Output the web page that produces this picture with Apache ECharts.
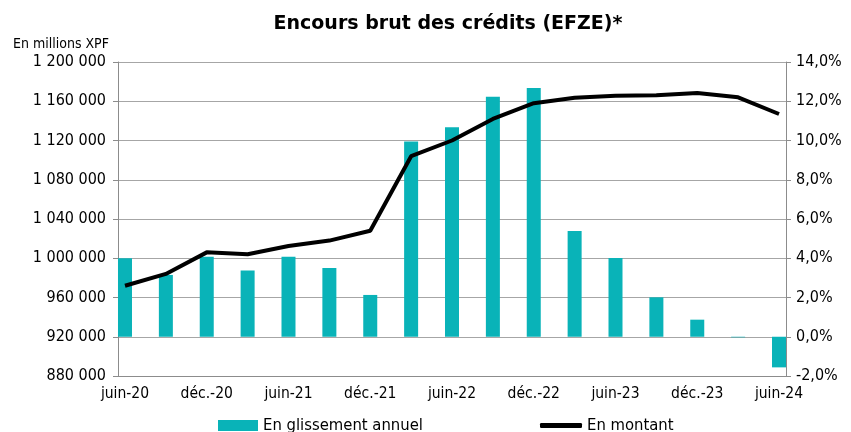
<!DOCTYPE html>
<html>
<head>
<meta charset="utf-8">
<script src="https://cdn.jsdelivr.net/npm/echarts@6/dist/echarts.min.js"></script>
<style>
  html, body { margin: 0; padding: 0; background: #fff; }
  #encours { width: 851px; height: 432px; }
</style>
</head>
<body>
<div id="encours"></div>
<script>
// trimestres, de juin-20 à juin-24
var categories = ["juin-20", "sept.-20", "déc.-20", "mars-21", "juin-21", "sept.-21", "déc.-21", "mars-22",
  "juin-22", "sept.-22", "déc.-22", "mars-23", "juin-23", "sept.-23", "déc.-23", "mars-24", "juin-24"];
// en millions XPF (axe de gauche)
var montant = [972000, 984000, 1006000, 1004000, 1012500, 1018000, 1028000, 1104000,
  1120000, 1142000, 1158000, 1163500, 1165500, 1166000, 1168500, 1164000, 1147000];
// en % (axe de droite)
var glissement = [4.0, 3.15, 4.08, 3.37, 4.08, 3.5, 2.13, 9.95,
  10.67, 12.23, 12.68, 5.39, 4.01, 2.01, 0.87, -0.03, -1.56];
var labelIdx = [0, 2, 4, 6, 8, 10, 12, 14, 16];

var font = "DejaVu Sans Condensed";
var chart = echarts.init(document.getElementById("encours"), null, { renderer: "canvas" });

function fmtMontant(v) {
  return String(v).replace(/\B(?=(\d{3})+(?!\d))/g, " ");
}

var option = {
  animation: false,
  backgroundColor: "#fff",
  textStyle: { fontFamily: font },
  title: [{
    text: "Encours brut des crédits (EFZE)*",
    left: 443, top: 10, textAlign: "center",
    textStyle: { fontFamily: "DejaVu Sans", fontSize: 19, fontWeight: "bold", color: "#000" }
  }, {
    text: "En millions XPF",
    left: 8, top: 32,
    textStyle: { fontFamily: font, fontSize: 14, fontWeight: "normal", color: "#000" }
  }],
  legend: [{
    data: ["En glissement annuel"],
    left: 213, top: 412,
    itemWidth: 40, itemHeight: 11, itemGap: 4,
    icon: "rect",
    textStyle: { fontFamily: font, fontSize: 16.5, color: "#000" }
  }, {
    data: ["En montant"],
    left: 535, top: 412,
    itemWidth: 42, itemHeight: 5,
    icon: "roundRect",
    textStyle: { fontFamily: font, fontSize: 16.5, color: "#000" }
  }],
  grid: { left: 118, right: 65, top: 62, bottom: 56, containLabel: false },
  xAxis: {
    type: "value",
    min: -0.171, max: 16.171,
    axisLine: { onZero: false, lineStyle: { color: "#8c8c8c", width: 1 } },
    axisTick: { show: false },
    splitLine: { show: false },
    axisLabel: {
      customValues: labelIdx,
      formatter: function (v) { return categories[Math.round(v)]; },
      fontFamily: font, fontSize: 15.5, color: "#000", margin: 10
    }
  },
  yAxis: [{
    type: "value",
    min: 880000, max: 1200000, interval: 40000,
    axisLine: { show: true, onZero: false, lineStyle: { color: "#8c8c8c" } },
    axisTick: { show: true, length: 5, lineStyle: { color: "#8c8c8c" } },
    splitLine: { lineStyle: { color: "#a6a6a6", width: 1 } },
    axisLabel: { formatter: fmtMontant, fontFamily: font, fontSize: 16, color: "#000", margin: 12 }
  }, {
    type: "value",
    min: -2, max: 14, interval: 2,
    axisLine: { show: true, onZero: false, lineStyle: { color: "#8c8c8c" } },
    axisTick: { show: true, length: 5, lineStyle: { color: "#8c8c8c" } },
    splitLine: { show: false },
    axisLabel: {
      formatter: function (v) { return v.toFixed(1).replace(".", ",") + "%"; },
      fontFamily: font, fontSize: 16, color: "#000", margin: 10
    }
  }],
  series: [{
    name: "En glissement annuel",
    type: "bar",
    yAxisIndex: 1,
    barWidth: 14,
    itemStyle: { color: "#09b3b8" },
    data: glissement.map(function (v, i) { return [i, v]; })
  }, {
    name: "En montant",
    type: "line",
    yAxisIndex: 0,
    showSymbol: false,
    symbol: "none",
    lineStyle: { color: "#000", width: 4 },
    itemStyle: { color: "#000" },
    data: montant.map(function (v, i) { return [i, v]; })
  }]
};

chart.setOption(option);
</script>
</body>
</html>
